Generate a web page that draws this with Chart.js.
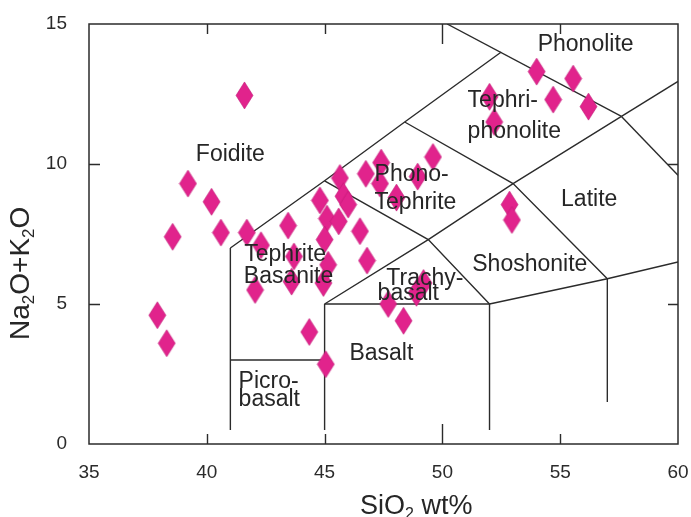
<!DOCTYPE html>
<html>
<head>
<meta charset="utf-8">
<script src="https://cdn.jsdelivr.net/npm/chart.js@4"></script>
<style>
  html, body { margin: 0; padding: 0; background: #fff; }
  canvas { display: block; }
</style>
</head>
<body>
<canvas id="tas" width="691" height="517"></canvas>
<script>
// Sample analyses: SiO2 (wt%) and total alkalis Na2O+K2O (wt%)
const SIO2 = [
  41.6, 39.2, 40.2, 38.55, 40.6, 41.7, 37.9, 38.3, 42.3, 42.05,
  43.45, 43.7, 43.6, 44.35, 45.05, 44.8, 45.1, 45.0, 45.15, 44.95,
  45.65, 45.8, 46.0, 45.6, 46.5, 46.75, 46.8, 47.4, 47.35, 48.05,
  48.95, 49.6, 47.7, 48.35, 48.9, 49.2, 52.0, 52.2, 54.0, 55.55,
  54.7, 56.2, 52.85, 52.95
];
const ALKALI = [
  12.45, 9.3, 8.65, 7.4, 7.55, 7.55, 4.6, 3.6, 7.1, 5.5,
  7.8, 6.7, 5.8, 4.0, 2.85, 8.7, 8.05, 7.3, 6.4, 5.75,
  9.5, 8.85, 8.55, 7.95, 7.6, 9.65, 6.55, 10.05, 9.3, 8.8,
  9.55, 10.25, 5.0, 4.4, 5.4, 5.75, 12.4, 11.5, 13.3, 13.05,
  12.3, 12.05, 8.55, 8.0
];

// Axis ticks
const X_TICKS = [35, 40, 45, 50, 55, 60];
const Y_TICKS = [0, 5, 10, 15];

// TAS field boundaries (SiO2, Na2O+K2O vertices)
const FIELD_LINES = [
  [[41, 0.5], [41, 7]],
  [[41, 3], [45, 3]],
  [[45, 0.5], [45, 5]],
  [[45, 5], [52, 5], [57, 5.9], [60, 6.5]],
  [[52, 0.5], [52, 5]],
  [[57, 1.5], [57, 5.9]],
  [[41, 7], [45, 9.4], [48.4, 11.5], [52.5, 14]],
  [[50.2, 15], [57.6, 11.7]],
  [[57.6, 11.7], [60, 9.6]],
  [[57.6, 11.7], [60, 12.95]],
  [[45, 5], [49.4, 7.3], [53, 9.3], [57.6, 11.7]],
  [[45, 9.4], [49.4, 7.3], [52, 5]],
  [[48.4, 11.5], [53, 9.3], [57, 5.9]]
];

// Rock field names and their anchor points (data units)
const FIELD_NAMES = [
  { text: 'Foidite',    x: 41.0,  y: 10.39, align: 'center' },
  { text: 'Phonolite',  x: 56.08, y: 14.32, align: 'center' },
  { text: 'Tephri-',    x: 51.07, y: 12.32, align: 'left' },
  { text: 'phonolite',  x: 51.07, y: 11.21, align: 'left' },
  { text: 'Phono-',     x: 47.12, y: 9.68,  align: 'left' },
  { text: 'Tephrite',   x: 47.12, y: 8.68,  align: 'left' },
  { text: 'Latite',     x: 56.23, y: 8.79,  align: 'center' },
  { text: 'Tephrite',   x: 41.59, y: 6.82,  align: 'left' },
  { text: 'Basanite',   x: 41.57, y: 6.04,  align: 'left' },
  { text: 'Trachy-',    x: 47.62, y: 5.96,  align: 'left' },
  { text: 'basalt',     x: 47.25, y: 5.43,  align: 'left' },
  { text: 'Shoshonite', x: 53.71, y: 6.46,  align: 'center' },
  { text: 'Basalt',     x: 47.41, y: 3.29,  align: 'center' },
  { text: 'Picro-',     x: 41.35, y: 2.29,  align: 'left' },
  { text: 'basalt',     x: 41.35, y: 1.64,  align: 'left' }
];

const FONT = '"Liberation Sans", Arial, sans-serif';
const INK = '#2b2b2b';

// Tall diamond marker
function diamondMarker(w, h, fill, stroke) {
  const c = document.createElement('canvas');
  c.width = w + 2;
  c.height = h + 2;
  const g = c.getContext('2d');
  const cx = c.width / 2, cy = c.height / 2;
  g.beginPath();
  g.moveTo(cx, 1);
  g.lineTo(c.width - 1, cy);
  g.lineTo(cx, c.height - 1);
  g.lineTo(1, cy);
  g.closePath();
  g.fillStyle = fill;
  g.fill();
  g.lineWidth = 0.6;
  g.strokeStyle = stroke;
  g.stroke();
  return c;
}
const marker = diamondMarker(17, 27, '#E1238C', '#C01A75');

const samples = SIO2.map((x, i) => ({ x: x, y: ALKALI[i] }));

const lineSets = FIELD_LINES.map(seg => ({
  type: 'scatter',
  showLine: true,
  data: seg.map(p => ({ x: p[0], y: p[1] })),
  borderColor: INK,
  borderWidth: 1.4,
  pointRadius: 0,
  pointHoverRadius: 0,
  fill: false,
  tension: 0,
  order: 2
}));

// Frame, inward ticks, field names and axis titles
const tasDecor = {
  id: 'tasDecor',
  afterDatasetsDraw(chart) {
    const ctx = chart.ctx;
    const { x: xs, y: ys } = chart.scales;
    ctx.save();
    ctx.fillStyle = '#262626';
    ctx.font = '23px ' + FONT;
    ctx.textBaseline = 'middle';
    FIELD_NAMES.forEach(f => {
      ctx.textAlign = f.align;
      ctx.fillText(f.text, xs.getPixelForValue(f.x), ys.getPixelForValue(f.y) + 2);
    });
    ctx.restore();
  },
  afterDraw(chart) {
    const ctx = chart.ctx;
    const a = chart.chartArea;
    const { x: xs, y: ys } = chart.scales;
    ctx.save();
    ctx.strokeStyle = INK;
    ctx.lineWidth = 1.5;
    ctx.strokeRect(a.left, a.top, a.right - a.left, a.bottom - a.top);
    ctx.lineWidth = 1.4;
    ctx.beginPath();
    X_TICKS.slice(1, -1).forEach(v => {
      const px = Math.round(xs.getPixelForValue(v)) + 0.5;
      const len = v === 50 ? 20 : 10;
      ctx.moveTo(px, a.bottom); ctx.lineTo(px, a.bottom - len);
      ctx.moveTo(px, a.top); ctx.lineTo(px, a.top + len);
    });
    Y_TICKS.slice(1, -1).forEach(v => {
      const py = Math.round(ys.getPixelForValue(v)) + 0.5;
      ctx.moveTo(a.left, py); ctx.lineTo(a.left + 11, py);
      ctx.moveTo(a.right, py); ctx.lineTo(a.right - 10, py);
    });
    ctx.stroke();

    // x-axis title: SiO2 wt%
    ctx.fillStyle = '#262626';
    ctx.textBaseline = 'alphabetic';
    ctx.textAlign = 'left';
    let x = 360, base = 514;
    const big = '27px ' + FONT, small = '16px ' + FONT;
    ctx.font = big; ctx.fillText('SiO', x, base); x += ctx.measureText('SiO').width;
    ctx.font = small; ctx.fillText('2', x, base + 5); x += ctx.measureText('2').width;
    ctx.font = big; ctx.fillText(' wt%', x, base);

    // y-axis title: Na2O+K2O
    const bigY = '28px ' + FONT, smallY = '17px ' + FONT;
    ctx.translate(29, 340);
    ctx.rotate(-Math.PI / 2);
    const parts = [['Na', 0], ['2', 1], ['O+K', 0], ['2', 1], ['O', 0]];
    let t = 0;
    parts.forEach(([s, sub]) => {
      ctx.font = sub ? smallY : bigY;
      ctx.fillText(s, t, sub ? 5 : 0);
      t += ctx.measureText(s).width;
    });
    ctx.restore();
  }
};

new Chart(document.getElementById('tas'), {
  type: 'scatter',
  data: {
    datasets: [
      {
        label: 'Samples',
        data: samples,
        pointStyle: marker,
        pointRadius: 9,
        pointHoverRadius: 9,
        order: 0
      },
      ...lineSets
    ]
  },
  options: {
    responsive: false,
    animation: false,
    events: [],
    layout: { padding: { top: 24, right: 13, left: 0, bottom: 0 } },
    plugins: { legend: { display: false }, tooltip: { enabled: false } },
    scales: {
      x: {
        type: 'linear',
        min: 35, max: 60,
        afterBuildTicks: s => { s.ticks = X_TICKS.map(v => ({ value: v })); },
        afterFit: s => { s.height = 73; s.paddingLeft = 0; s.paddingRight = 0; },
        grid: { display: false, drawTicks: false },
        border: { display: false },
        ticks: { padding: 17, color: '#2b2b2b', font: { family: FONT, size: 19 } }
      },
      y: {
        type: 'linear',
        min: 0, max: 15,
        afterBuildTicks: s => { s.ticks = Y_TICKS.map(v => ({ value: v })); },
        afterFit: s => { s.width = 89; s.paddingTop = 0; s.paddingBottom = 0; },
        grid: { display: false, drawTicks: false },
        border: { display: false },
        ticks: { padding: 22, color: '#2b2b2b', font: { family: FONT, size: 19 } }
      }
    }
  },
  plugins: [tasDecor]
});
</script>
</body>
</html>
